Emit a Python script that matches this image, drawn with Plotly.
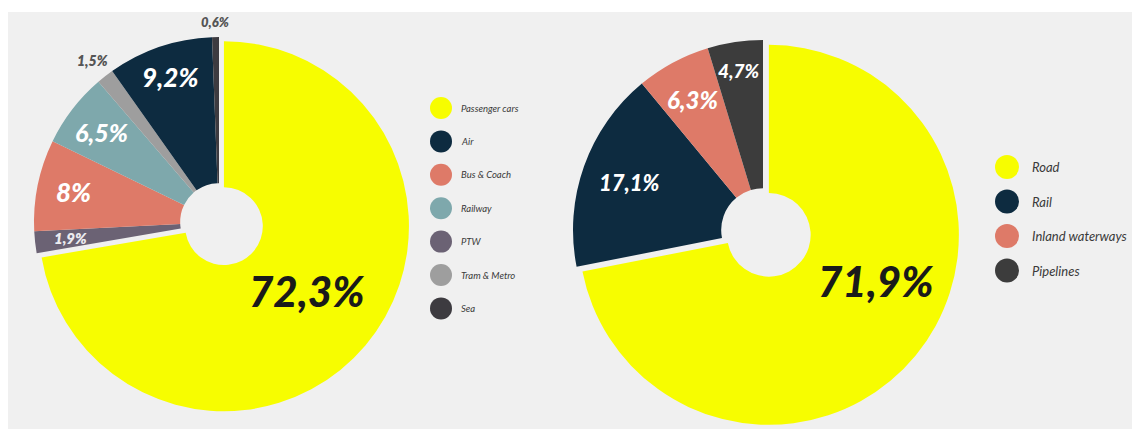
import math
import plotly.graph_objects as go

W, H = 1132, 429

# Passenger transport: share of passenger-km by mode (legend order)
passenger_modes = ["Passenger cars", "Air", "Bus & Coach", "Railway", "PTW", "Tram & Metro", "Sea"]
passenger_share = [72.3, 9.2, 8.0, 6.5, 1.9, 1.5, 0.6]
passenger_colors = ["#f7fd00", "#0d2b40", "#de7a68", "#7ea8ac", "#6b6274", "#9e9e9e", "#3d3b40"]
# clockwise order of the slices, starting at 12 o'clock
passenger_slice_order = ["Passenger cars", "PTW", "Bus & Coach", "Railway", "Tram & Metro", "Air", "Sea"]

# Freight transport: share of tonne-km by mode
freight_modes = ["Road", "Rail", "Inland waterways", "Pipelines"]
freight_share = [71.9, 17.1, 6.3, 4.7]
freight_colors = ["#f7fd00", "#0d2b40", "#de7a68", "#3c3c3c"]
freight_slice_order = ["Road", "Rail", "Inland waterways", "Pipelines"]

BG = "#f0f0f0"
TXT = "#3a3a3a"


def fmt_pct(v):
    return f"{v:g}".replace(".", ",") + "%"


def pie_domain(cx, cy, r, pull):
    half = r * (1 + pull)
    return dict(x=[(cx - half) / W, (cx + half) / W],
                y=[1 - (cy + half) / H, 1 - (cy - half) / H])


# label styling per slice: radial fraction, angular nudge (deg), size, weight, colour
passenger_label_style = {
    "Passenger cars": (0.57, -2, 42, 900, "#1a1a1a"),
    "Air": (0.83, 0, 26, 900, "#ffffff"),
    "Bus & Coach": (0.80, 0, 26, 900, "#ffffff"),
    "Railway": (0.80, 0, 25, 900, "#ffffff"),
    "PTW": (0.81, 0, 15, 800, "#ececf0"),
    "Tram & Metro": (1.11, 0, 14, 800, "#555555"),
    "Sea": (1.08, 0, 13, 800, "#555555"),
}
freight_label_style = {
    "Road": (0.61, -16, 42, 900, "#1a1a1a"),
    "Rail": (0.745, 0, 22, 900, "#ffffff"),
    "Inland waterways": (0.78, 0, 24, 900, "#ffffff"),
    "Pipelines": (0.85, 0, 19, 900, "#ffffff"),
}

# pie geometry in pixels
LEFT = dict(cx=219, cy=222, r=185, pull=0.035, hole=0.21)
RIGHT = dict(cx=763, cy=230, r=190, pull=0.04, hole=0.22)

fig = go.Figure()

# backdrop panel
fig.add_shape(type="rect", xref="paper", yref="paper", x0=8 / W, x1=1, y0=0, y1=1 - 12 / H,
              fillcolor=BG, line_width=0, layer="below")

annotations = []


def add_pie(modes, shares, colors, order, geo, styles, pulled):
    lookup = {m: (s, c) for m, s, c in zip(modes, shares, colors)}
    vals = [lookup[m][0] for m in order]
    cols = [lookup[m][1] for m in order]
    pulls = [geo["pull"] if m == pulled else 0 for m in order]
    fig.add_trace(go.Pie(
        labels=order, values=vals, sort=False, direction="clockwise", rotation=0,
        hole=geo["hole"], pull=pulls, textinfo="none", showlegend=False,
        marker=dict(colors=cols, line=dict(width=0)),
        domain=pie_domain(geo["cx"], geo["cy"], geo["r"], geo["pull"]),
    ))
    total = sum(vals)
    start = 0.0
    for m, v, p in zip(order, vals, pulls):
        span = 360.0 * v / total
        mid = start + span / 2
        start += span
        frac, dtheta, size, weight, color = styles[m]
        a = math.radians(mid + dtheta)
        am = math.radians(mid)
        ox = p * geo["r"] * math.sin(am)
        oy = -p * geo["r"] * math.cos(am)
        x = geo["cx"] + ox + frac * geo["r"] * math.sin(a)
        y = geo["cy"] + oy - frac * geo["r"] * math.cos(a)
        annotations.append(dict(
            x=x, y=y, xref="x", yref="y", text=fmt_pct(v), showarrow=False,
            xanchor="center", yanchor="middle",
            font=dict(family="Lato, 'Open Sans', sans-serif", size=size, color=color,
                      weight=weight, style="italic"),
        ))


add_pie(passenger_modes, passenger_share, passenger_colors, passenger_slice_order,
        LEFT, passenger_label_style, "Passenger cars")
add_pie(freight_modes, freight_share, freight_colors, freight_slice_order,
        RIGHT, freight_label_style, "Road")


def add_legend(modes, colors, x_dot, y0, step, dot, x_text, font_size):
    ys = [y0 + i * step for i in range(len(modes))]
    fig.add_trace(go.Scatter(
        x=[x_dot] * len(modes), y=ys, mode="markers", showlegend=False, hoverinfo="text",
        text=modes, marker=dict(size=dot, color=colors, line=dict(width=0)),
        xaxis="x", yaxis="y",
    ))
    for m, y in zip(modes, ys):
        annotations.append(dict(
            x=x_text, y=y, xref="x", yref="y", text=m, showarrow=False,
            xanchor="left", yanchor="middle",
            font=dict(family="Lato, 'Open Sans', sans-serif", size=font_size, color=TXT,
                      style="italic"),
        ))


add_legend(passenger_modes, passenger_colors, 441, 108, 33.4, 22, 459, 9.5)
add_legend(freight_modes, freight_colors, 1007, 167, 34.5, 24, 1030, 13)

fig.update_layout(
    width=W, height=H,
    margin=dict(l=0, r=0, t=0, b=0),
    paper_bgcolor="#ffffff",
    plot_bgcolor="rgba(0,0,0,0)",
    xaxis=dict(range=[0, W], domain=[0, 1], visible=False, fixedrange=True),
    yaxis=dict(range=[H, 0], domain=[0, 1], visible=False, fixedrange=True),
    annotations=annotations,
    showlegend=False,
)

fig.write_html("out.html")
